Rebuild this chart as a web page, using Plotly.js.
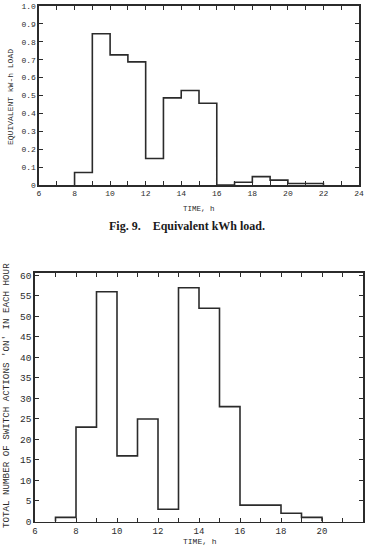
<!DOCTYPE html>
<html>
<head>
<meta charset="utf-8">
<script src="https://cdn.plot.ly/plotly-3.0.1.min.js"></script>
<style>html,body{margin:0;padding:0;background:#fff;}#chart{width:368px;height:548px;}</style>
</head>
<body>
<div id="chart"></div>
<script>
// Fig. 9: equivalent kWh load per hour (bin start hour -> value)
var loadHours = [8, 9, 10, 11, 12, 13, 14, 15, 16, 17, 18, 19, 20, 21];
var loadValues = [0.07, 0.845, 0.727, 0.688, 0.148, 0.487, 0.528, 0.457, 0, 0.015, 0.047, 0.027, 0.008, 0.008];

// Total number of switch actions 'on' in each hour
var switchHours = [7, 8, 9, 10, 11, 12, 13, 14, 15, 16, 17, 18, 19];
var switchValues = [1, 23, 56, 16, 25, 3, 57, 52, 28, 4, 4, 2, 1];

var loadYTickVals = [0, 0.1, 0.2, 0.3, 0.4, 0.5, 0.6, 0.7, 0.8, 0.9, 1.0];
var loadYTickText = ["0", "0.1", "0.2", "0.3", "0.4", "0.5", "0.6", "0.7", "0.8", "0.9", "1.0"];
var switchYTickVals = [0, 5, 10, 15, 20, 25, 30, 35, 40, 45, 50, 55, 60];

function stepXY(hours, vals) {
  var x = [hours[0]], y = [0];
  for (var i = 0; i < hours.length; i++) { x.push(hours[i]); y.push(vals[i]); }
  var end = hours[hours.length - 1] + 1;
  x.push(end); y.push(vals[vals.length - 1]);
  x.push(end); y.push(0);
  return {x: x, y: y};
}
function hourTicks(a, b) {
  var v = [], t = [];
  for (var h = a; h <= b; h++) { v.push(h); t.push(h % 2 === 0 ? String(h) : ""); }
  return {v: v, t: t};
}

var s1 = stepXY(loadHours, loadValues);
var s2 = stepXY(switchHours, switchValues);
var xt1 = hourTicks(6, 24);
var xt2 = hourTicks(6, 22);

var ink = "#2b2b2b";
var mono = "Liberation Mono, DejaVu Sans Mono, monospace";

var traces = [
  {x: s1.x, y: s1.y, xaxis: "x", yaxis: "y", mode: "lines", line: {shape: "hv", color: ink, width: 1.6}, hoverinfo: "skip"},
  {x: s2.x, y: s2.y, xaxis: "x2", yaxis: "y2", mode: "lines", line: {shape: "hv", color: ink, width: 1.6}, hoverinfo: "skip"}
];

var axBase = {showline: true, linecolor: ink, linewidth: 1.6, mirror: "ticks", ticks: "inside", ticklen: 4, tickcolor: ink, tickwidth: 1, showgrid: false, zeroline: false, fixedrange: true, tickfont: {family: mono, size: 8, color: ink}};

function ax(extra) { var o = {}; for (var k in axBase) o[k] = axBase[k]; for (var k2 in extra) o[k2] = extra[k2]; return o; }

var layout = {
  width: 368, height: 548,
  margin: {l: 0, r: 0, t: 0, b: 0},
  paper_bgcolor: "#fff", plot_bgcolor: "#fff",
  showlegend: false,
  xaxis: ax({domain: [39/368, 359/368], range: [6, 24], tickmode: "array", tickvals: xt1.v, ticktext: xt1.t, anchor: "y"}),
  yaxis: ax({domain: [1 - 185/548, 1 - 6/548], range: [0, 1.0], tickmode: "array", tickvals: loadYTickVals, ticktext: loadYTickText, anchor: "x"}),
  xaxis2: ax({domain: [35/368, 363/368], range: [6, 22], tickmode: "array", tickvals: xt2.v, ticktext: xt2.t, anchor: "y2", tickfont: {family: mono, size: 9, color: ink}}),
  yaxis2: ax({domain: [1 - 521.5/548, 1 - 272.5/548], range: [0, 60.7], tickmode: "array", tickvals: switchYTickVals, anchor: "x2", tickfont: {family: mono, size: 9.5, color: ink}}),
  annotations: [
    {text: "EQUIVALENT kW-h LOAD", textangle: -90, xref: "paper", yref: "paper", x: 11/368, y: 1 - 97/548, showarrow: false, xanchor: "center", yanchor: "middle", font: {family: mono, size: 8, color: ink}},
    {text: "TIME, h", xref: "paper", yref: "paper", x: 199/368, y: 1 - 209/548, showarrow: false, xanchor: "center", yanchor: "middle", font: {family: mono, size: 7.5, color: ink}},
    {text: "<b>Fig. 9.&nbsp;&nbsp;&nbsp;&nbsp;Equivalent kWh load.</b>", xref: "paper", yref: "paper", x: 187/368, y: 1 - 226/548, showarrow: false, xanchor: "center", yanchor: "middle", font: {family: "Liberation Serif, serif", size: 12, color: "#1a1a1a"}},
    {text: "TOTAL NUMBER OF SWITCH ACTIONS 'ON' IN EACH HOUR", textangle: -90, xref: "paper", yref: "paper", x: 6/368, y: 1 - 396/548, showarrow: false, xanchor: "center", yanchor: "middle", font: {family: mono, size: 9.2, color: ink}},
    {text: "TIME, h", xref: "paper", yref: "paper", x: 200/368, y: 1 - 541/548, showarrow: false, xanchor: "center", yanchor: "middle", font: {family: mono, size: 8, color: ink}}
  ]
};

Plotly.newPlot("chart", traces, layout, {staticPlot: true, displayModeBar: false});
</script>
</body>
</html>
